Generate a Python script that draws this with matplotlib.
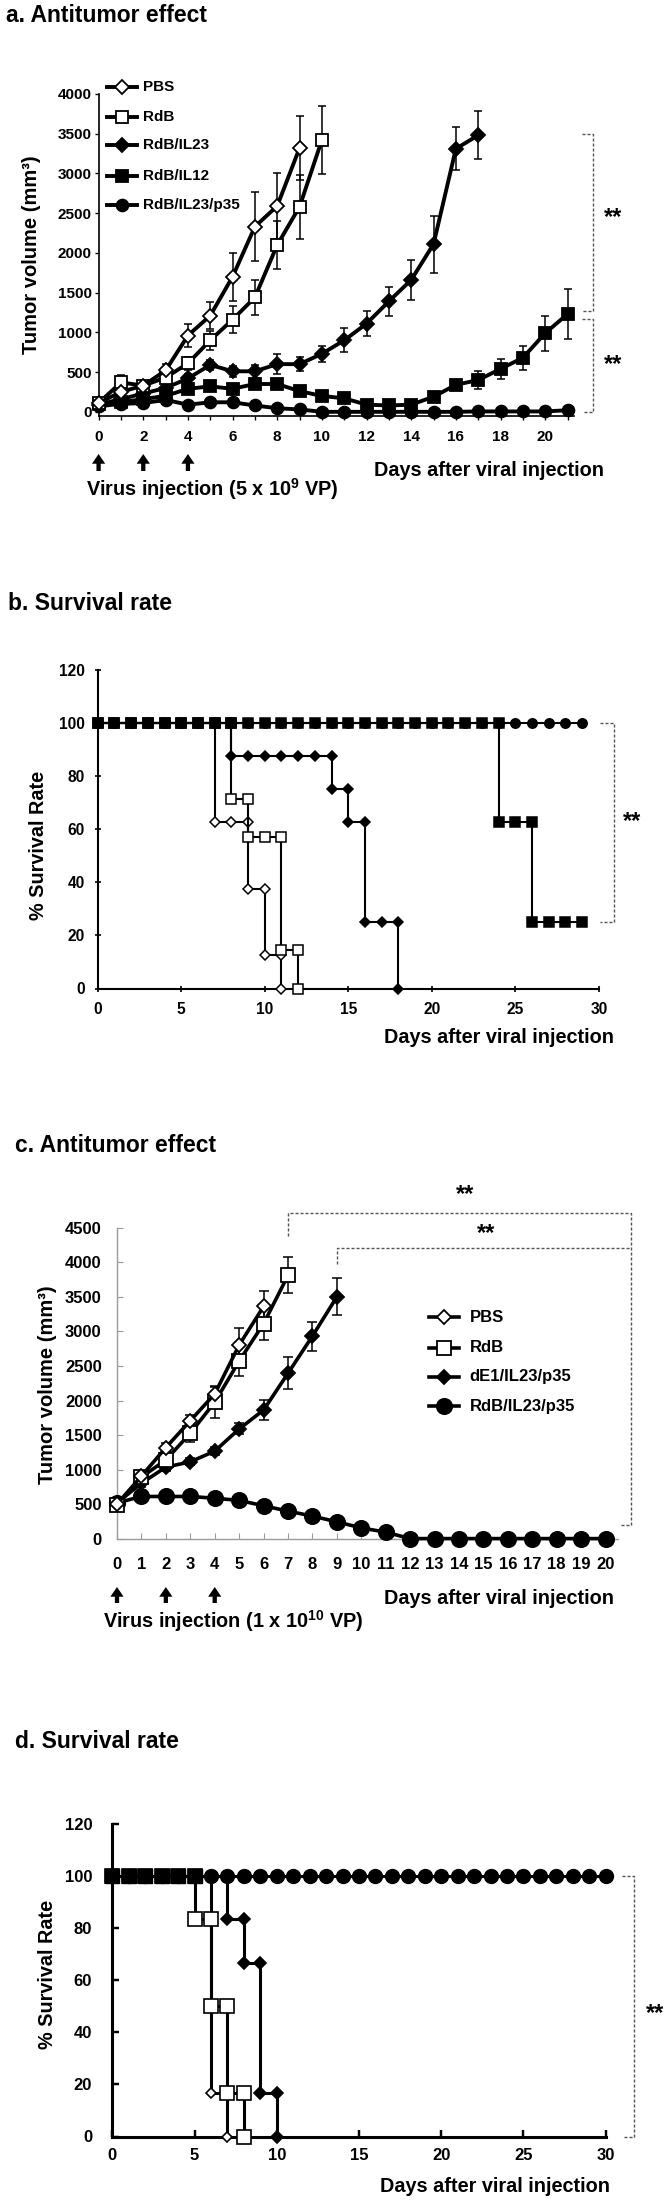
import matplotlib
matplotlib.use('Agg')
import matplotlib.pyplot as plt
from matplotlib.lines import Line2D

plt.rcParams['font.family'] = ['Liberation Sans', 'DejaVu Sans']
plt.rcParams['font.weight'] = 'bold'
plt.rcParams['mathtext.fontset'] = 'custom'
plt.rcParams['mathtext.rm'] = 'Liberation Sans:bold'
plt.rcParams['mathtext.it'] = 'Liberation Sans:bold'
plt.rcParams['mathtext.bf'] = 'Liberation Sans:bold'
plt.rcParams['mathtext.default'] = 'rm'

# ---------------- data: panel a (tumor volume) ----------------
a_days_pbs = [0, 1, 2, 3, 4, 5, 6, 7, 8, 9]
a_pbs = [110, 250, 330, 520, 960, 1210, 1700, 2330, 2590, 3320]
a_pbs_err = [30, 50, 60, 80, 150, 170, 300, 430, 420, 400]
a_days_rdb = [0, 1, 2, 3, 4, 5, 6, 7, 8, 9, 10]
a_rdb = [110, 370, 330, 430, 610, 900, 1160, 1440, 2100, 2580, 3420]
a_rdb_err = [30, 90, 60, 60, 80, 120, 170, 220, 300, 400, 430]
a_days_il23 = [0, 1, 2, 3, 4, 5, 6, 7, 8, 9, 10, 11, 12, 13, 14, 15, 16, 17]
a_il23 = [90, 160, 230, 300, 420, 590, 510, 510, 600, 600, 730, 900, 1110, 1390, 1660, 2110, 3310, 3480]
a_il23_err = [20, 30, 40, 40, 60, 60, 70, 80, 130, 90, 100, 150, 160, 185, 250, 360, 270, 300]
a_days_il12 = [0, 1, 2, 3, 4, 5, 6, 7, 8, 9, 10, 11, 12, 13, 14, 15, 16, 17, 18, 19, 20, 21]
a_il12 = [100, 120, 160, 200, 290, 320, 290, 350, 350, 260, 200, 170, 90, 80, 90, 190, 340, 400, 540, 680, 990, 1230]
a_il12_err = [20, 20, 30, 30, 40, 40, 40, 50, 50, 40, 30, 30, 30, 30, 30, 40, 60, 110, 125, 150, 220, 310]
a_days_p35 = [0, 1, 2, 3, 4, 5, 6, 7, 8, 9, 10, 11, 12, 13, 14, 15, 16, 17, 18, 19, 20, 21]
a_p35 = [70, 100, 110, 150, 90, 120, 120, 80, 45, 30, 0, 0, 0, 0, 0, 0, 0, 5, 5, 5, 5, 20]
a_p35_err = [20, 20, 20, 25, 20, 20, 20, 20, 15, 10, 5, 5, 5, 5, 5, 5, 5, 5, 5, 5, 5, 10]
a_labels = ['PBS', 'RdB', 'RdB/IL23', 'RdB/IL12', 'RdB/IL23/p35']
a_xticks = [0, 1, 2, 3, 4, 5, 6, 7, 8, 9, 10, 11, 12, 13, 14, 15, 16, 17, 18, 19, 20, 21]
a_xticklabels = ['0', '', '2', '', '4', '', '6', '', '8', '', '10', '', '12', '', '14', '', '16', '', '18', '', '20', '']
a_yticks = [0, 500, 1000, 1500, 2000, 2500, 3000, 3500, 4000]
a_injection_days = [0, 2, 4]

# ---------------- data: panel b (survival) ----------------
b_pbs_x = [0, 1, 2, 3, 4, 5, 6, 7, 7, 8, 9, 9, 10, 10, 11, 11]
b_pbs_y = [100, 100, 100, 100, 100, 100, 100, 100, 62.5, 62.5, 62.5, 37.5, 37.5, 12.5, 12.5, 0]
b_rdb_x = [0, 1, 2, 3, 4, 5, 6, 7, 8, 8, 9, 9, 10, 11, 11, 12, 12]
b_rdb_y = [100, 100, 100, 100, 100, 100, 100, 100, 100, 71.4, 71.4, 57.1, 57.1, 57.1, 14.3, 14.3, 0]
b_il23_x = [0, 1, 2, 3, 4, 5, 6, 7, 8, 8, 9, 10, 11, 12, 13, 14, 14, 15, 15, 16, 16, 17, 18, 18]
b_il23_y = [100, 100, 100, 100, 100, 100, 100, 100, 100, 87.5, 87.5, 87.5, 87.5, 87.5, 87.5, 87.5,
            75, 75, 62.5, 62.5, 25, 25, 25, 0]
b_il12_x = [0, 1, 2, 3, 4, 5, 6, 7, 8, 9, 10, 11, 12, 13, 14, 15, 16, 17, 18, 19, 20, 21, 22, 23, 24,
            24, 25, 26, 26, 27, 28, 29]
b_il12_y = [100, 100, 100, 100, 100, 100, 100, 100, 100, 100, 100, 100, 100, 100, 100, 100, 100, 100,
            100, 100, 100, 100, 100, 100, 100, 62.5, 62.5, 62.5, 25, 25, 25, 25]
b_p35_x = [0, 1, 2, 3, 4, 5, 6, 7, 8, 9, 10, 11, 12, 13, 14, 15, 16, 17, 18, 19, 20, 21, 22, 23, 24,
           25, 26, 27, 28, 29]
b_p35_y = [100, 100, 100, 100, 100, 100, 100, 100, 100, 100, 100, 100, 100, 100, 100, 100, 100, 100,
           100, 100, 100, 100, 100, 100, 100, 100, 100, 100, 100, 100]
surv_yticks = [0, 20, 40, 60, 80, 100, 120]
surv_xticks = [0, 5, 10, 15, 20, 25, 30]

# ---------------- data: panel c (tumor volume) ----------------
c_days_pbs = [0, 1, 2, 3, 4, 5, 6]
c_pbs = [500, 905, 1319, 1707, 2095, 2804, 3362]
c_pbs_err = [50, 60, 70, 80, 100, 240, 220]
c_days_rdb = [0, 1, 2, 3, 4, 5, 6, 7]
c_rdb = [480, 890, 1140, 1526, 1976, 2571, 3114, 3812]
c_rdb_err = [50, 60, 80, 120, 230, 220, 240, 260]
c_days_de1 = [0, 1, 2, 3, 4, 5, 6, 7, 8, 9]
c_de1 = [517, 802, 1035, 1112, 1267, 1588, 1862, 2395, 2933, 3502]
c_de1_err = [40, 50, 50, 50, 60, 80, 145, 230, 210, 270]
c_days_p35 = [0, 1, 2, 3, 4, 5, 6, 7, 8, 9, 10, 11, 12, 13, 14, 15, 16, 17, 18, 19, 20]
c_p35 = [517, 610, 610, 610, 585, 553, 476, 398, 326, 243, 155, 93, 0, 0, 0, 0, 0, 0, 0, 0, 0]
c_p35_err = [30, 30, 30, 30, 30, 30, 30, 30, 25, 25, 20, 15, 5, 5, 5, 5, 5, 5, 5, 5, 5]
c_labels = ['PBS', 'RdB', 'dE1/IL23/p35', 'RdB/IL23/p35']
c_xticks = [0, 1, 2, 3, 4, 5, 6, 7, 8, 9, 10, 11, 12, 13, 14, 15, 16, 17, 18, 19, 20]
c_yticks = [0, 500, 1000, 1500, 2000, 2500, 3000, 3500, 4000, 4500]
c_injection_days = [0, 2, 4]

# ---------------- data: panel d (survival) ----------------
d_pbs_x = [0, 1, 2, 3, 4, 5, 6, 6, 7, 7]
d_pbs_y = [100, 100, 100, 100, 100, 100, 100, 16.7, 16.7, 0]
d_rdb_x = [0, 1, 2, 3, 4, 5, 5, 6, 6, 7, 7, 8, 8]
d_rdb_y = [100, 100, 100, 100, 100, 100, 83.3, 83.3, 50, 50, 16.7, 16.7, 0]
d_de1_x = [0, 1, 2, 3, 4, 5, 6, 7, 7, 8, 8, 9, 9, 10, 10]
d_de1_y = [100, 100, 100, 100, 100, 100, 100, 100, 83.3, 83.3, 66.7, 66.7, 16.7, 16.7, 0]
d_p35_x = [0, 1, 2, 3, 4, 5, 6, 7, 8, 9, 10, 11, 12, 13, 14, 15, 16, 17, 18, 19, 20, 21, 22, 23, 24,
           25, 26, 27, 28, 29, 30]
d_p35_y = [100, 100, 100, 100, 100, 100, 100, 100, 100, 100, 100, 100, 100, 100, 100, 100, 100, 100,
           100, 100, 100, 100, 100, 100, 100, 100, 100, 100, 100, 100, 100]

# ---------------- figure helpers ----------------
W, H = 672, 2204
fig = plt.figure(figsize=(W / 100, H / 100), dpi=100)
fig.patch.set_facecolor('white')


def fx(px):
    return px / W


def fy(py):
    return 1 - py / H


def make_axes(x0, x1, ytop, ybot):
    return fig.add_axes([fx(x0), fy(ybot), (x1 - x0) / W, (ybot - ytop) / H])


def put(x, y, s, size, ha='center', va='center', **kw):
    fig.text(fx(x), fy(y), s, fontsize=size, ha=ha, va=va, fontweight='bold', **kw)


def legend_row(y, x0, x1, xtext, marker, ms, mfc, lw, label, size):
    fig.add_artist(Line2D([fx(x0), fx(x1)], [fy(y), fy(y)], color='k', lw=lw,
                          transform=fig.transFigure))
    fig.add_artist(Line2D([fx((x0 + x1) / 2)], [fy(y)], marker=marker, ms=ms, mfc=mfc,
                          mec='k', mew=1.3, ls='none', transform=fig.transFigure))
    put(xtext, y, label, size, ha='left')


def arrows(ax, days, y_tail, y_tip, axes_top, axes_bot):
    h = axes_bot - axes_top
    for d in days:
        ax.annotate('', xy=(d, (axes_bot - y_tip) / h), xytext=(d, (axes_bot - y_tail) / h),
                    xycoords=ax.get_xaxis_transform(), textcoords=ax.get_xaxis_transform(),
                    arrowprops=dict(arrowstyle='simple,head_length=0.5,head_width=0.68,tail_width=0.22',
                                    fc='k', ec='none', shrinkA=0, shrinkB=0,
                                    mutation_scale=14),
                    annotation_clip=False)


def style_axes(ax, spine_color, spine_lw, direction, ticklen, xpad, ypad, size):
    for s in ['top', 'right']:
        ax.spines[s].set_visible(False)
    for s in ['left', 'bottom']:
        ax.spines[s].set_color(spine_color)
        ax.spines[s].set_linewidth(spine_lw)
    ax.tick_params(axis='both', direction=direction, length=ticklen, width=spine_lw * 0.8,
                   color=spine_color, labelsize=size)
    ax.tick_params(axis='x', pad=xpad)
    ax.tick_params(axis='y', pad=ypad)
    for lab in ax.get_xticklabels() + ax.get_yticklabels():
        lab.set_fontweight('bold')


dash = dict(color='#555555', lw=1.0, ls=(0, (2.2, 1.4)), clip_on=False)

# ================= Panel a =================
a_top, a_bot = 93.9, 415.8
axa = make_axes(98.6, 98.6 + 21.3 * 22.33, a_top, a_bot)
axa.set_xlim(0, 21.3)
axa.set_ylim(-50, 4000)
eb = dict(fmt='none', ecolor='k', elinewidth=1.1, capsize=3, capthick=1.1, clip_on=False, zorder=2)
axa.errorbar(a_days_p35, a_p35, yerr=a_p35_err, **eb)
axa.errorbar(a_days_il12, a_il12, yerr=a_il12_err, **eb)
axa.errorbar(a_days_il23, a_il23, yerr=a_il23_err, **eb)
axa.errorbar(a_days_rdb, a_rdb, yerr=a_rdb_err, **eb)
axa.errorbar(a_days_pbs, a_pbs, yerr=a_pbs_err, **eb)
la = dict(color='k', lw=2.8, clip_on=False, zorder=3, mec='k', mew=1.3)
axa.plot(a_days_p35, a_p35, marker='o', ms=8.5, mfc='k', **la)
axa.plot(a_days_il12, a_il12, marker='s', ms=8.5, mfc='k', **la)
axa.plot(a_days_il23, a_il23, marker='D', ms=7.5, mfc='k', **la)
axa.plot(a_days_rdb, a_rdb, marker='s', ms=9, mfc='white', **la)
axa.plot(a_days_pbs, a_pbs, marker='D', ms=7.5, mfc='white', **la)
axa.set_xticks(a_xticks)
axa.set_xticklabels(a_xticklabels)
axa.set_yticks(a_yticks)
style_axes(axa, 'k', 1.2, 'out', 3, 7.3, 2.0, 11)
# brackets
axa.plot([21.65, 22.14, 22.14, 21.65], [3500, 3500, 1272, 1272], **dash)
axa.plot([21.65, 22.14, 22.14, 21.65], [1168, 1168, 0, 0], **dash)
arrows(axa, a_injection_days, 471, 454, a_top, a_bot)

put(6, 16, 'a. Antitumor effect', 16.5, ha='left')
put(32, 255, 'Tumor volume (mm³)', 14.5, rotation=90)
put(488.6, 470.7, 'Days after viral injection', 14.3)
put(212, 489, r'Virus injection (5 x 10$^{9}$ VP)', 14.3)
put(613, 218, '**', 17)
put(613, 365, '**', 17)
a_leg_markers = [('D', 7.5, 'white'), ('s', 9, 'white'), ('D', 7.5, 'k'), ('s', 8.5, 'k'), ('o', 8.5, 'k')]
for yy, lab, (mk, ms, fc) in zip([86.8, 116.8, 145.4, 175.7, 205.4], a_labels, a_leg_markers):
    legend_row(yy, 107, 137, 142.7, mk, ms, fc, 2.8, lab, 11)

# ================= Panel b =================
b_top, b_bot = 669.5, 988.5
axb = make_axes(97.7, 598.8, b_top, b_bot)
axb.set_xlim(0, 30)
axb.set_ylim(0, 120)
lb = dict(color='k', lw=1.5, clip_on=False, mec='k', mew=1.1)
axb.plot(b_pbs_x, b_pbs_y, marker='D', ms=5, mfc='white', zorder=3, **lb)
axb.plot(b_rdb_x, b_rdb_y, marker='s', ms=7.3, mfc='white', zorder=4, **lb)
axb.plot(b_il23_x, b_il23_y, marker='D', ms=5.2, mfc='k', zorder=5, **lb)
axb.plot(b_p35_x, b_p35_y, marker='o', ms=6.8, mfc='k', zorder=6, **lb)
axb.plot(b_il12_x, b_il12_y, marker='s', ms=7.3, mfc='k', zorder=7, **lb)
axb.set_xticks(surv_xticks)
axb.set_yticks(surv_yticks)
style_axes(axb, 'k', 1.5, 'inout', 5, 7.0, 7.0, 11.2)
axb.plot([30.1, 30.9, 30.9, 30.1], [100, 100, 25, 25], **dash)
put(7.7, 603, 'b. Survival rate', 16.5, ha='left')
put(39, 845, '% Survival Rate', 14.3, rotation=90)
put(499, 1037.6, 'Days after viral injection', 14.3)
put(632, 822, '**', 17)

# ================= Panel c =================
c_top, c_bot = 1227.9, 1538.6
axc = make_axes(117, 117 + 20.5 * 24.43, c_top, c_bot)
axc.set_xlim(0, 20.5)
axc.set_ylim(0, 4500)
ebc = dict(fmt='none', ecolor='k', elinewidth=1.1, capsize=3.5, capthick=1.1, clip_on=False, zorder=2)
axc.errorbar(c_days_p35, c_p35, yerr=c_p35_err, **ebc)
axc.errorbar(c_days_de1, c_de1, yerr=c_de1_err, **ebc)
axc.errorbar(c_days_rdb, c_rdb, yerr=c_rdb_err, **ebc)
axc.errorbar(c_days_pbs, c_pbs, yerr=c_pbs_err, **ebc)
lc = dict(color='k', lw=2.6, clip_on=False, zorder=3, mec='k', mew=1.3)
axc.plot(c_days_p35, c_p35, marker='o', ms=11, mfc='k', **lc)
axc.plot(c_days_de1, c_de1, marker='D', ms=7.5, mfc='k', **lc)
axc.plot(c_days_rdb, c_rdb, marker='s', ms=10, mfc='white', **lc)
axc.plot(c_days_pbs, c_pbs, marker='D', ms=7.2, mfc='white', **lc)
axc.set_xticks(c_xticks)
axc.set_yticks(c_yticks)
style_axes(axc, '#9a9a9a', 1.0, 'in', 4, 13.5, 11.0, 12)
# brackets
axc.plot([7, 7, 21.06, 21.06, 20.65], [4387, 4717, 4717, 191, 191], **dash)
axc.plot([9, 9, 21.06], [3983, 4216, 4216], **dash)
arrows(axc, c_injection_days, 1603, 1587, c_top, c_bot)

put(15, 1145.7, 'c. Antitumor effect', 16.5, ha='left')
put(48, 1385, 'Tumor volume (mm³)', 14.5, rotation=90)
put(498.5, 1599, 'Days after viral injection', 14.3)
put(233.6, 1620.7, r'Virus injection (1 x 10$^{10}$ VP)', 14.3)
put(465, 1194.6, '**', 17)
put(486.5, 1233.2, '**', 17)
c_leg_markers = [('D', 7.2, 'white'), ('s', 10, 'white'), ('D', 7.5, 'k'), ('o', 11, 'k')]
for yy, lab, (mk, ms, fc) in zip([1317, 1347.5, 1377, 1406.4], c_labels, c_leg_markers):
    legend_row(yy, 428.6, 458.6, 469.4, mk, ms, fc, 2.6, lab, 12)

# ================= Panel d =================
d_top, d_bot = 1823.8, 2136.5
axd = make_axes(112.3, 605.7, d_top, d_bot)
axd.set_xlim(0, 30)
axd.set_ylim(0, 120)
ld = dict(color='k', lw=2.2, clip_on=False, mec='k', mew=1.2)
axd.plot(d_pbs_x, d_pbs_y, marker='D', ms=5, mfc='white', zorder=3, **ld)
axd.plot(d_de1_x, d_de1_y, marker='D', ms=6.5, mfc='k', zorder=4, **ld)
axd.plot(d_p35_x, d_p35_y, marker='o', ms=9.8, mfc='k', zorder=5, **ld)
axd.plot(d_rdb_x, d_rdb_y, marker='s', ms=9.8, mfc='white', zorder=6, **ld)
# squares still at full survival appear filled in the original
full_x = [x for x, y in zip(d_rdb_x, d_rdb_y) if y == 100]
full_y = [y for y in d_rdb_y if y == 100]
axd.plot(full_x, full_y, marker='s', ms=9.8, mfc='k', mec='k', ls='none', zorder=7, clip_on=False)
axd.set_xticks(surv_xticks)
axd.set_yticks(surv_yticks)
style_axes(axd, 'k', 2.2, 'in', 5, 8.3, 14.5, 12)
axd.plot([30.98, 31.74, 31.74, 30.98], [100, 100, 0, 0], **dash)
put(15, 1741.9, 'd. Survival rate', 16.5, ha='left')
put(47.5, 1974, '% Survival Rate', 14.3, rotation=90)
put(495, 2186.7, 'Days after viral injection', 14.3)
put(655, 2014, '**', 17)

fig.savefig('out.png', dpi=100, facecolor='white')
